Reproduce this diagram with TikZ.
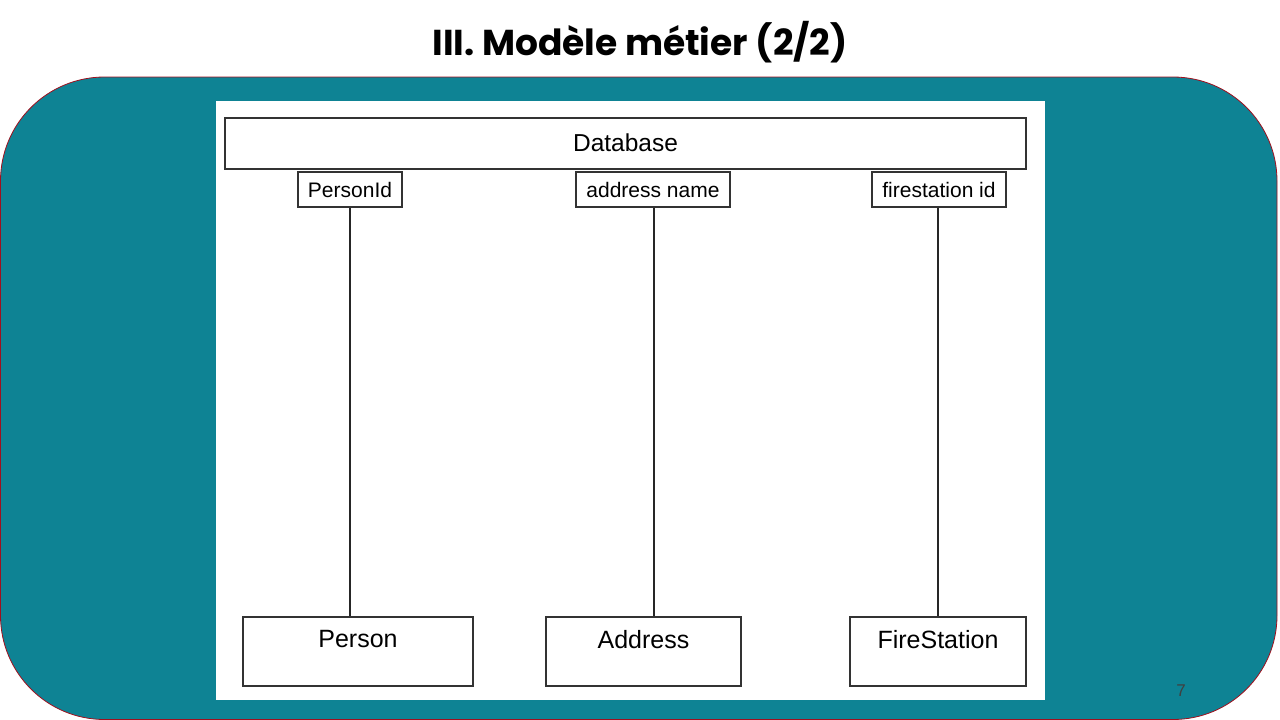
\documentclass[tikz,border=0pt]{standalone}
\usepackage{fontspec}
\setmainfont{Liberation Sans}
\newfontfamily\titlefont{Poppins}
\usetikzlibrary{positioning}
\definecolor{slideteal}{HTML}{0E8394}
\definecolor{slideedge}{HTML}{A0101E}

\begin{document}
\begin{tikzpicture}[x=1pt, y=-1pt,
    box/.style={draw=black!80, line width=1.3pt, inner sep=0pt},
    keybox/.style={box, minimum height=35pt, font=\fontsize{21}{24}\selectfont},
    entity/.style={box, minimum height=69pt},
    link/.style={draw=black!85, line width=1.3pt}]
  \useasboundingbox (0,0) rectangle (1280,720);
  % slide background
  \draw[fill=slideteal, draw=slideedge, line width=0.8pt, rounded corners=104pt] (0.5,77) rectangle (1277,719.5);%
  \fill[white] (216,101) rectangle (1045,700);%
  \node [font=\titlefont\bfseries\fontsize{36}{42}\selectfont] (title) at (640,42) {III. Modèle métier (2/2)};%
  \node [font=\fontsize{17}{20}\selectfont, text=black!75] (pagenum) at (1181,691) {7};%
  % database and its keys
  \node [box, minimum width=801pt, minimum height=51pt, font=\fontsize{24.5}{28}\selectfont] (db) at (625.5,143.5) {\raisebox{2pt}{Database}};%
  \node [keybox, minimum width=104pt] (personid) at (350,189.5) {PersonId};%
  \node [keybox, minimum width=154pt] (addressname) at (653,189.5) {address name};%
  \node [keybox, minimum width=134pt] (firestationid) at (939,189.5) {firestation id};%
  % entities
  \node [entity, minimum width=230pt] (person) at (358,651.5) {};%
  \node [entity, minimum width=195pt] (address) at (643.5,651.5) {};%
  \node [entity, minimum width=176pt] (firestation) at (938,651.5) {};%
  \node [font=\fontsize{25}{28}\selectfont] (personlbl) at ([yshift=-23pt]person.north) {Person};%
  \node [font=\fontsize{25}{28}\selectfont] (addresslbl) at ([yshift=-23pt]address.north) {Address};%
  \node [font=\fontsize{25}{28}\selectfont] (firestationlbl) at ([yshift=-23pt]firestation.north) {FireStation};%
  % links
  \draw [link] (personid.south) -- (personid.south |- person.north);%
  \draw [link] ([xshift=1pt]addressname.south) -- ([xshift=1pt]addressname.south |- address.north);%
  \draw [link] ([xshift=-1pt]firestationid.south) -- ([xshift=-1pt]firestationid.south |- firestation.north);%
\end{tikzpicture}
\end{document}
